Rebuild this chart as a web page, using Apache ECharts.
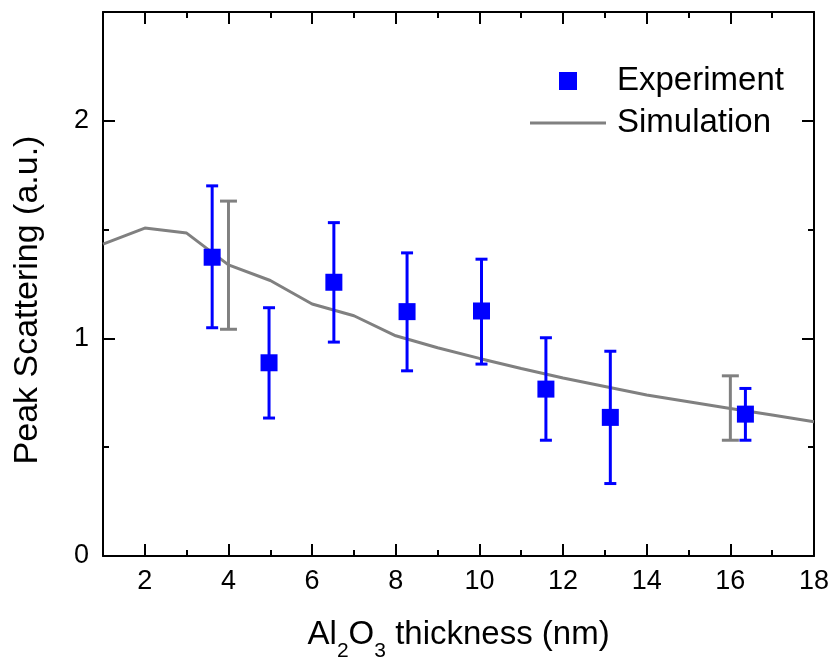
<!DOCTYPE html>
<html>
<head>
<meta charset="utf-8">
<script src="https://cdn.jsdelivr.net/npm/echarts@6/dist/echarts.min.js"></script>
<style>html,body{margin:0;padding:0;background:#fff;}#c{width:835px;height:658px;}</style>
</head>
<body>
<div id="c"></div>
<script>
// ---- data ----
const expX    = [3.61, 4.97, 6.52, 8.27, 10.05, 11.59, 13.13, 16.36];
const expY    = [1.373, 0.888, 1.258, 1.123, 1.126, 0.767, 0.637, 0.652];
const expLow  = [1.049, 0.634, 0.983, 0.851, 0.882, 0.532, 0.333, 0.532];
const expHigh = [1.701, 1.141, 1.532, 1.393, 1.364, 1.003, 0.941, 0.770];

const simX = [1, 2, 3, 4, 5, 6, 7, 8, 9, 10, 11, 12, 13, 14, 15, 16, 17, 18];
const simY = [1.433, 1.507, 1.484, 1.338, 1.266, 1.158, 1.104, 1.012, 0.957, 0.908, 0.862, 0.818, 0.779, 0.740, 0.709, 0.678, 0.648, 0.617];

const simErrX    = [4, 16];
const simErrLow  = [1.042, 0.532];
const simErrHigh = [1.631, 0.828];

const xMajor = [2, 4, 6, 8, 10, 12, 14, 16, 18];
const xMinor = [3, 5, 7, 9, 11, 13, 15, 17];
const yMajor = [0, 1, 2];
const yMinor = [0.5, 1.5];

// ---- chart ----
const FONT = '"Liberation Sans", Arial, sans-serif';
const chart = echarts.init(document.getElementById('c'), null, {renderer: 'canvas'});

function xAx(pos, ticks, len, showLine, showLabel, extra) {
  return Object.assign({
    type: 'value', gridIndex: 0, position: pos, min: 1, max: 18,
    axisLine: {show: showLine, onZero: false, lineStyle: {color: '#000', width: 2}},
    axisTick: {show: true, inside: true, length: len, customValues: ticks, lineStyle: {color: '#000', width: 2}},
    axisLabel: {show: showLabel, customValues: ticks, color: '#000', fontSize: 27, fontFamily: FONT, margin: 12},
    splitLine: {show: false}
  }, extra || {});
}
function yAx(pos, ticks, len, showLine, showLabel, extra) {
  return Object.assign({
    type: 'value', gridIndex: 0, position: pos, min: 0, max: 2.5,
    axisLine: {show: showLine, onZero: false, lineStyle: {color: '#000', width: 2}},
    axisTick: {show: true, inside: true, length: len, customValues: ticks, lineStyle: {color: '#000', width: 2}},
    axisLabel: {show: showLabel, customValues: ticks, color: '#000', fontSize: 27, fontFamily: FONT, margin: 14},
    splitLine: {show: false}
  }, extra || {});
}

function errRender(color, capW) {
  return function (params, api) {
    const x = api.value(0), lo = api.value(1), hi = api.value(2);
    const pLo = api.coord([x, lo]);
    const pHi = api.coord([x, hi]);
    const h = capW / 2;
    const st = {stroke: color, lineWidth: 3};
    return {
      type: 'group',
      children: [
        {type: 'line', shape: {x1: pLo[0], y1: pLo[1], x2: pHi[0], y2: pHi[1]}, style: st},
        {type: 'line', shape: {x1: pLo[0] - h, y1: pLo[1], x2: pLo[0] + h, y2: pLo[1]}, style: st},
        {type: 'line', shape: {x1: pHi[0] - h, y1: pHi[1], x2: pHi[0] + h, y2: pHi[1]}, style: st}
      ]
    };
  };
}

const option = {
  animation: false,
  backgroundColor: '#fff',
  grid: {left: 103, right: 21, top: 12, bottom: 102, containLabel: false, outerBoundsMode: 'none'},
  xAxis: [
    xAx('bottom', xMajor, 12, true, true, {
      name: '{z| }{a|Al}{s|2}{a|O}{s|3}{a| thickness (nm)}',
      nameLocation: 'middle', nameGap: 62,
      nameTextStyle: {
        color: '#000', fontFamily: FONT, fontSize: 33, width: 600, overflow: 'none',
        rich: {
          z: {fontSize: 1, lineHeight: 44, verticalAlign: 'top'},
          a: {color: '#000', fontFamily: FONT, fontSize: 33, lineHeight: 34, verticalAlign: 'top'},
          s: {color: '#000', fontFamily: FONT, fontSize: 21, lineHeight: 21, verticalAlign: 'bottom'}
        }
      }
    }),
    xAx('bottom', xMinor, 6, false, false),
    xAx('top', xMajor, 12, true, false),
    xAx('top', xMinor, 6, false, false)
  ],
  yAxis: [
    yAx('left', yMajor, 12, true, true, {
      name: 'Peak Scattering (a.u.)',
      nameLocation: 'middle', nameGap: 58,
      nameTextStyle: {color: '#000', fontFamily: FONT, fontSize: 34, width: 700, overflow: 'none', padding: [0, 32, 0, 0]}
    }),
    yAx('left', yMinor, 6, false, false),
    yAx('right', yMajor, 12, true, false),
    yAx('right', yMinor, 6, false, false)
  ],
  legend: [
    {
      data: ['Experiment'], left: 554, top: 59, orient: 'vertical',
      icon: 'rect', itemWidth: 18, itemHeight: 18,
      textStyle: {color: '#000', fontFamily: FONT, fontSize: 33, lineHeight: 34, padding: [0, 0, 0, 35]},
      selectedMode: false
    },
    {
      data: ['Simulation'], left: 525, top: 101, orient: 'vertical',
      icon: 'rect', itemWidth: 76, itemHeight: 3,
      textStyle: {color: '#000', fontFamily: FONT, fontSize: 33, lineHeight: 34, padding: [0, 0, 0, 6]},
      selectedMode: false
    }
  ],
  series: [
    {
      name: 'Simulation', type: 'line', xAxisIndex: 0, yAxisIndex: 0,
      data: simX.map((x, i) => [x, simY[i]]),
      showSymbol: false, symbol: 'none',
      lineStyle: {color: '#808080', width: 3},
      itemStyle: {color: '#808080'},
      z: 2
    },
    {
      name: 'SimErr', type: 'custom', xAxisIndex: 0, yAxisIndex: 0,
      data: simErrX.map((x, i) => [x, simErrLow[i], simErrHigh[i]]),
      encode: {x: 0, y: [1, 2]},
      renderItem: errRender('#808080', 17),
      z: 3
    },
    {
      name: 'ExpErr', type: 'custom', xAxisIndex: 0, yAxisIndex: 0,
      data: expX.map((x, i) => [x, expLow[i], expHigh[i]]),
      encode: {x: 0, y: [1, 2]},
      renderItem: errRender('#0000ff', 12),
      z: 4
    },
    {
      name: 'Experiment', type: 'scatter', xAxisIndex: 0, yAxisIndex: 0,
      data: expX.map((x, i) => [x, expY[i]]),
      symbol: 'rect', symbolSize: 17,
      itemStyle: {color: '#0000ff', opacity: 1},
      z: 5
    }
  ]
};
chart.setOption(option);
</script>
</body>
</html>
